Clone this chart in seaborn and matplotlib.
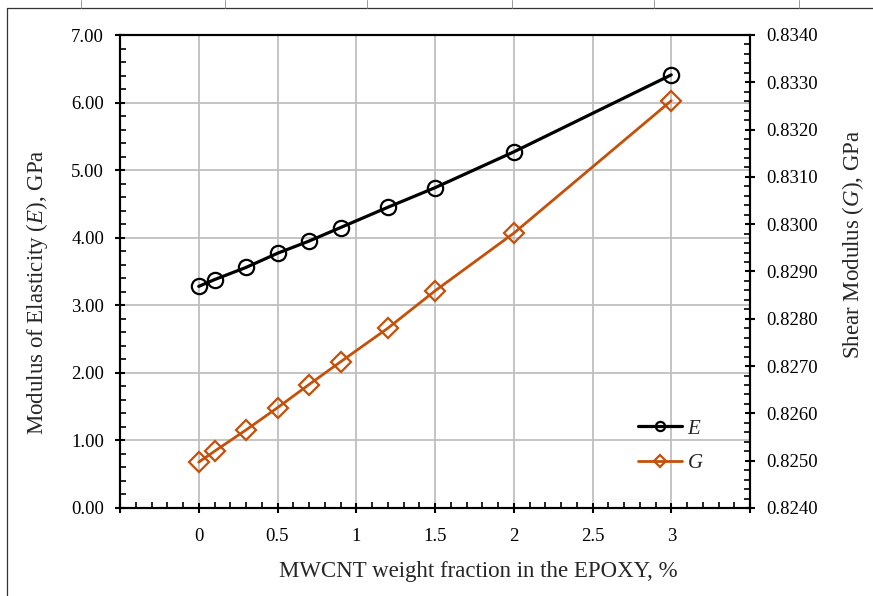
import numpy as np
import pandas as pd
import matplotlib
matplotlib.use("Agg")
import matplotlib.pyplot as plt
from matplotlib.lines import Line2D
from matplotlib.ticker import MultipleLocator, FormatStrFormatter, FixedLocator
import seaborn as sns

# ---- data ----
mwcnt = [0, 0.1, 0.3, 0.5, 0.7, 0.9, 1.2, 1.5, 2.0, 3.0]
E_gpa = [3.28, 3.38, 3.56, 3.77, 3.95, 4.15, 4.45, 4.74, 5.27, 6.41]
G_gpa = [0.82497, 0.82520, 0.82565, 0.82612, 0.82661, 0.82709, 0.82780, 0.82859, 0.82981, 0.83261]
x_ticks = [-0.5, 0, 0.5, 1, 1.5, 2, 2.5, 3, 3.5]
x_tick_labels = ["", "0", "0.5", "1", "1.5", "2", "2.5", "3", ""]

sns.set_style("white")
plt.rcParams["font.family"] = ["Liberation Serif", "DejaVu Serif"]
plt.rcParams["mathtext.fontset"] = "custom"
plt.rcParams["mathtext.rm"] = "Liberation Serif"
plt.rcParams["mathtext.it"] = "Liberation Serif:italic"

df = pd.DataFrame({"x": mwcnt, "E": E_gpa, "G": G_gpa})

W, H = 873, 596
fig = plt.figure(figsize=(W / 100, H / 100), dpi=100)
ax = fig.add_axes([120 / W, 1 - 508 / H, 630 / W, 473 / H])
ax2 = ax.twinx()

black = "#000000"
orange = "#C4500A"

sns.lineplot(data=df, x="x", y="E", ax=ax, color=black, linewidth=2.3,
             marker="o", markersize=11, markerfacecolor="none",
             markeredgecolor=black, markeredgewidth=1.6, label="$E$", legend=False)
sns.lineplot(data=df, x="x", y="G", ax=ax2, color=orange, linewidth=2.0,
             marker="D", markersize=10.5, markerfacecolor="none",
             markeredgecolor=orange, markeredgewidth=1.6, label="$G$", legend=False)

# axes limits and ticks
ax.set_xlim(-0.5, 3.5)
ax.set_ylim(0, 7)
ax2.set_ylim(0.8240, 0.8340)

ax.xaxis.set_major_locator(FixedLocator(x_ticks))
ax.set_xticklabels(x_tick_labels)
ax.xaxis.set_minor_locator(MultipleLocator(0.1))
ax.yaxis.set_major_locator(MultipleLocator(1.0))
ax.yaxis.set_minor_locator(MultipleLocator(0.2))
ax.yaxis.set_major_formatter(FormatStrFormatter("%.2f"))
ax2.yaxis.set_major_locator(MultipleLocator(0.001))
ax2.yaxis.set_minor_locator(MultipleLocator(0.0002))
ax2.yaxis.set_major_formatter(FormatStrFormatter("%.4f"))

ax.grid(True, which="major", axis="both", color="#BFBFBF", linewidth=1.3)
ax2.grid(False)
ax.set_axisbelow(True)

for a in (ax, ax2):
    for s in a.spines.values():
        s.set_color(black)
        s.set_linewidth(1.5)
        s.set_visible(True)

tick_fs = 13.5
ax.tick_params(axis="both", which="major", direction="inout", length=7, width=1.5,
               labelsize=tick_fs, colors=black, pad=8)
ax.tick_params(axis="x", which="major", pad=11)
ax.tick_params(axis="both", which="minor", direction="in", length=4.5, width=1.2, colors=black)
ax.tick_params(axis="y", which="both", left=True, right=False)
ax.tick_params(axis="x", which="both", bottom=True, top=False)
ax2.tick_params(axis="y", which="major", direction="inout", length=7, width=1.5,
                labelsize=tick_fs, colors=black, pad=8)
ax2.tick_params(axis="y", which="minor", direction="in", length=4.5, width=1.2, colors=black)

ax.set_xlabel("")
ax.set_ylabel("")
ax2.set_ylabel("")

label_fs = 16.5
fig.text(478 / W, 1 - 572 / H, "MWCNT weight fraction in the EPOXY, %",
         fontsize=label_fs, ha="center", va="center")
fig.text(37 / W, 1 - 292 / H, "Modulus of Elasticity ($E$), GPa",
         fontsize=label_fs, ha="center", va="center", rotation=90)
fig.text(853 / W, 1 - 244 / H, "Shear Modulus ($G$), GPa",
         fontsize=label_fs, ha="center", va="center", rotation=90)

# legend
handles = ax.get_lines()[:1] + ax2.get_lines()[:1]
leg = ax2.legend(handles=handles, labels=["$E$", "$G$"], loc="upper left",
                 bbox_to_anchor=(0.806, 0.21), frameon=False, fontsize=15,
                 handlelength=2.1, handletextpad=0.25, labelspacing=0.7,
                 borderpad=0, markerscale=0.6)

# document frame lines
fig.add_artist(Line2D([7 / W, 7 / W], [0, 1 - 8 / H], color="#333333", linewidth=0.9))
fig.add_artist(Line2D([7 / W, 1], [1 - 8 / H, 1 - 8 / H], color="#333333", linewidth=0.9))
for px in [81, 225, 367, 512, 654, 799]:
    fig.add_artist(Line2D([px / W, px / W], [1 - 8 / H, 1], color="#888888", linewidth=0.6))

fig.savefig("out.png", dpi=100, facecolor="white")
